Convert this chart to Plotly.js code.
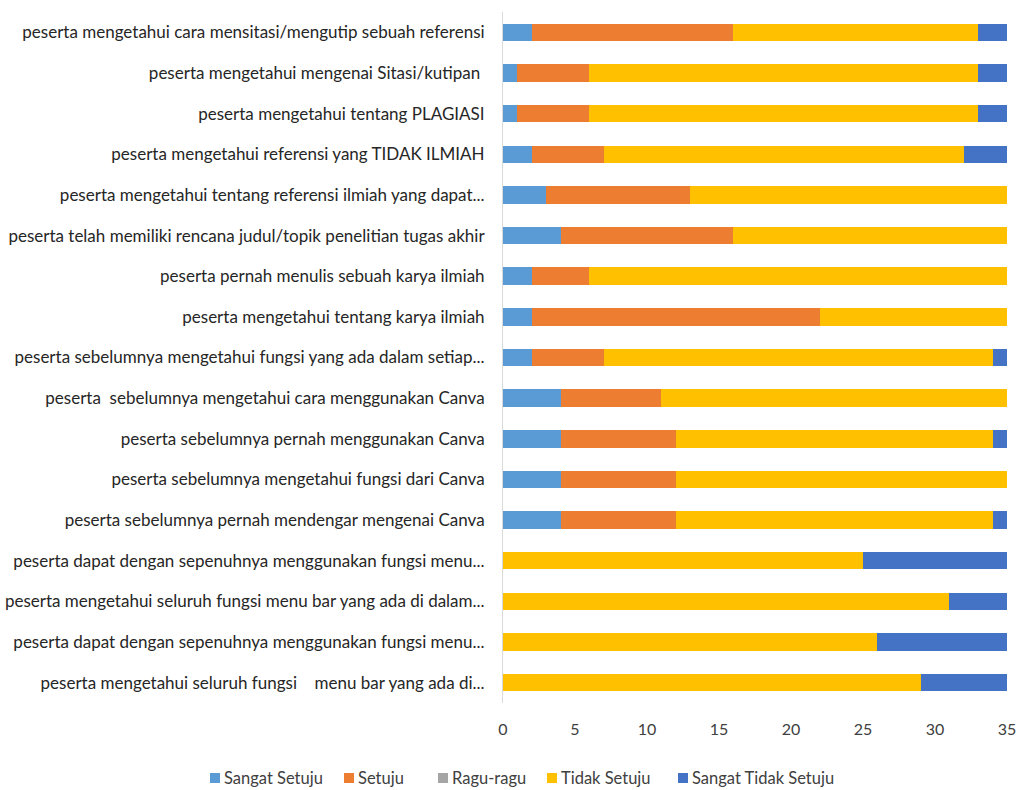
<!DOCTYPE html>
<html>
<head>
<meta charset="utf-8">
<script src="https://cdn.plot.ly/plotly-3.0.1.min.js"></script>
<style>html,body{margin:0;padding:0;background:#fff;}#chart{width:1019px;height:790px;}</style>
</head>
<body>
<div id="chart"></div>
<script>
const categories = [
  "peserta mengetahui cara mensitasi/mengutip sebuah referensi",
  "peserta mengetahui mengenai Sitasi/kutipan\u00a0",
  "peserta mengetahui tentang PLAGIASI",
  "peserta mengetahui referensi yang TIDAK ILMIAH",
  "peserta mengetahui tentang referensi ilmiah yang dapat...",
  "peserta telah memiliki rencana judul/topik penelitian tugas akhir",
  "peserta pernah menulis sebuah karya ilmiah",
  "peserta mengetahui tentang karya ilmiah",
  "peserta sebelumnya mengetahui fungsi yang ada dalam setiap...",
  "peserta \u00a0sebelumnya mengetahui cara menggunakan Canva",
  "peserta sebelumnya pernah menggunakan Canva",
  "peserta sebelumnya mengetahui fungsi dari Canva",
  "peserta sebelumnya pernah mendengar mengenai Canva",
  "peserta dapat dengan sepenuhnya menggunakan fungsi menu...",
  "peserta mengetahui seluruh fungsi menu bar yang ada di dalam...",
  "peserta dapat dengan sepenuhnya menggunakan fungsi menu...\u200b",
  "peserta mengetahui seluruh fungsi \u00a0\u00a0 menu bar yang ada di..."
];
const sangatSetuju      = [2, 1, 1, 2, 3, 4, 2, 2, 2, 4, 4, 4, 4, 0, 0, 0, 0];
const setuju            = [14, 5, 5, 5, 10, 12, 4, 20, 5, 7, 8, 8, 8, 0, 0, 0, 0];
const raguRagu          = [0, 0, 0, 0, 0, 0, 0, 0, 0, 0, 0, 0, 0, 0, 0, 0, 0];
const tidakSetuju       = [17, 27, 27, 25, 22, 19, 29, 13, 27, 24, 22, 23, 22, 25, 31, 26, 29];
const sangatTidakSetuju = [2, 2, 2, 3, 0, 0, 0, 0, 1, 0, 1, 0, 1, 10, 4, 9, 6];
const seriesNames = ["Sangat Setuju", "Setuju", "Ragu-ragu", "Tidak Setuju", "Sangat Tidak Setuju"];
const seriesColors = ["#5B9BD5", "#ED7D31", "#A5A5A5", "#FFC000", "#4472C4"];
const seriesValues = [sangatSetuju, setuju, raguRagu, tidakSetuju, sangatTidakSetuju];

const traces = seriesValues.map((vals, i) => ({
  type: 'bar',
  orientation: 'h',
  name: seriesNames[i],
  x: vals,
  y: categories,
  marker: {color: seriesColors[i], line: {width: 0}},
  hoverinfo: 'x+name',
  showlegend: false
}));

// Plot area geometry (pixels) used to place a hand-built legend below the chart
const M = {l: 503, r: 12, t: 12, b: 87};
const W = 1019, H = 790;
const plotW = W - M.l - M.r, plotH = H - M.t - M.b;
const px2x = p => (p - M.l) / plotW;
const py2y = p => (H - M.b - p) / plotH;
const legendLeft = [210, 344, 438, 547, 678];
const legendCy = 778, sq = 10;

const shapes = [], annotations = [];
const fontFam = 'Lato, "Open Sans", sans-serif';
seriesNames.forEach((n, i) => {
  shapes.push({
    type: 'rect', xref: 'paper', yref: 'paper',
    x0: px2x(legendLeft[i]), x1: px2x(legendLeft[i] + sq),
    y0: py2y(legendCy + sq / 2), y1: py2y(legendCy - sq / 2),
    fillcolor: seriesColors[i], line: {width: 0}
  });
  annotations.push({
    xref: 'paper', yref: 'paper',
    x: px2x(legendLeft[i] + sq + 2), y: py2y(legendCy),
    xanchor: 'left', yanchor: 'middle', showarrow: false,
    text: n,
    font: {family: fontFam, size: 16.5, color: '#404040'}
  });
});

const layout = {
  width: W,
  height: H,
  barmode: 'stack',
  bargap: 0.57,
  paper_bgcolor: '#ffffff',
  plot_bgcolor: '#ffffff',
  margin: M,
  font: {family: fontFam, size: 17, color: '#404040'},
  showlegend: false,
  shapes: shapes,
  annotations: annotations,
  xaxis: {
    range: [0, 35],
    dtick: 5,
    tick0: 0,
    showgrid: false,
    zeroline: false,
    showline: false,
    ticks: 'outside',
    ticklen: 12,
    tickcolor: 'rgba(0,0,0,0)',
    tickfont: {family: fontFam, size: 16, color: '#404040'}
  },
  yaxis: {
    autorange: 'reversed',
    type: 'category',
    showgrid: false,
    zeroline: false,
    showline: true,
    linecolor: '#d9d9d9',
    linewidth: 1,
    ticks: 'outside',
    ticklen: 14,
    tickcolor: 'rgba(0,0,0,0)',
    tickfont: {family: fontFam, size: 17, color: '#262626'}
  }
};

Plotly.newPlot('chart', traces, layout, {displayModeBar: false, staticPlot: true});
</script>
</body>
</html>
